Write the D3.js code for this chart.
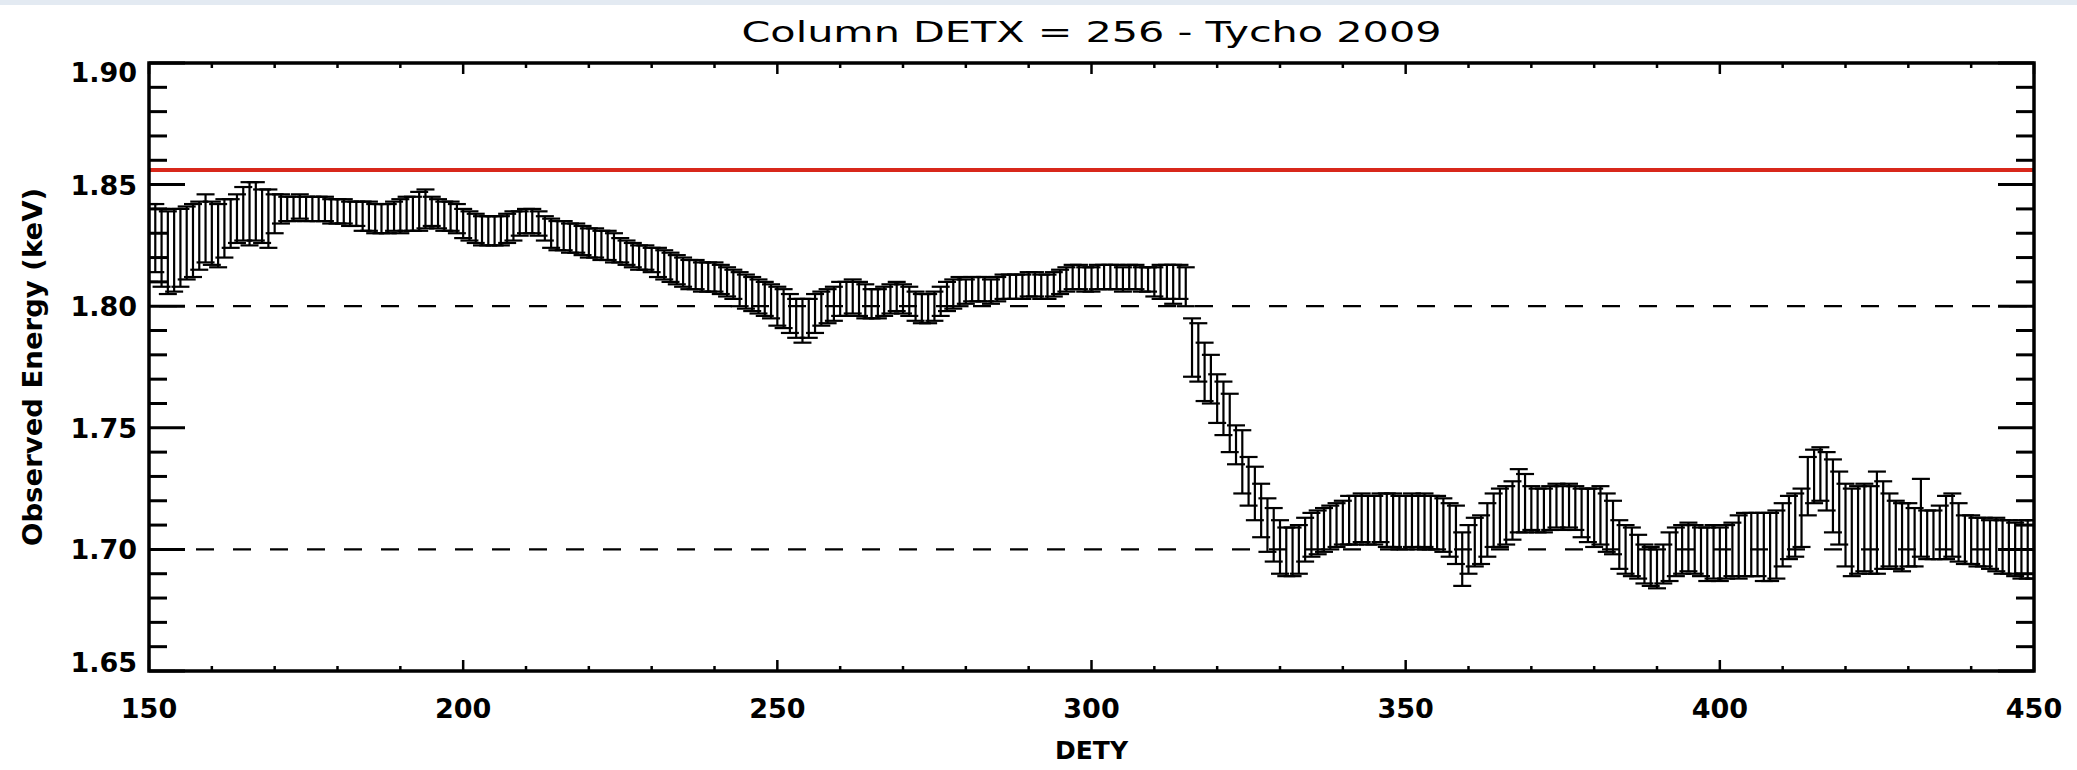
<!DOCTYPE html>
<html>
<head>
<meta charset="utf-8">
<script src="https://cdn.jsdelivr.net/npm/d3@7"></script>
<style>
  html, body { margin: 0; padding: 0; background: #ffffff; }
  svg { display: block; }
</style>
</head>
<body>
<script>
// ---------- DATA ----------
const titleText = "Column DETX = 256 - Tycho 2009";
const xLabel = "DETY";
const yLabel = "Observed Energy (keV)";
const xTicks = [150, 200, 250, 300, 350, 400, 450];
const yTicks = [1.65, 1.70, 1.75, 1.80, 1.85, 1.90];
const yTickLabels = ["1.65", "1.70", "1.75", "1.80", "1.85", "1.90"];
const refLine = 1.856;          // red reference energy
const dashedLevels = [1.80, 1.70];
const detY = d3.range(150, 451); // one point per DETY row, 150..450

// observed energy (keV), DETY 150..450
const energy = [
 1.826,1.828,1.824,1.822,1.823,1.824,1.826,1.827,1.829,1.832,
 1.830,1.829,1.832,1.834,1.836,1.838,1.838,1.839,1.837,1.836,
 1.838,1.840,1.840,1.840,1.841,1.840,1.840,1.840,1.840,1.839,
 1.839,1.839,1.838,1.838,1.837,1.837,1.836,1.836,1.836,1.837,
 1.837,1.838,1.838,1.839,1.840,1.839,1.838,1.837,1.837,1.836,
 1.834,1.833,1.832,1.831,1.831,1.831,1.831,1.832,1.833,1.834,
 1.835,1.835,1.834,1.832,1.830,1.829,1.829,1.828,1.828,1.827,
 1.826,1.826,1.825,1.825,1.824,1.823,1.822,1.821,1.820,1.820,
 1.819,1.818,1.817,1.816,1.815,1.814,1.813,1.813,1.812,1.812,
 1.812,1.811,1.810,1.809,1.807,1.806,1.805,1.804,1.803,1.802,
 1.800,1.799,1.797,1.795,1.794,1.795,1.797,1.799,1.800,1.801,
 1.803,1.803,1.804,1.803,1.802,1.801,1.801,1.802,1.803,1.804,
 1.803,1.802,1.800,1.799,1.799,1.800,1.802,1.804,1.805,1.806,
 1.806,1.807,1.807,1.807,1.806,1.807,1.808,1.808,1.808,1.808,
 1.809,1.809,1.808,1.808,1.809,1.810,1.811,1.812,1.812,1.811,
 1.811,1.812,1.812,1.812,1.812,1.811,1.812,1.812,1.811,1.811,
 1.810,1.810,1.810,1.809,1.810,1.808,1.783,1.781,1.773,1.770,
 1.762,1.758,1.752,1.743,1.736,1.728,1.723,1.716,1.710,1.706,
 1.701,1.699,1.699,1.700,1.704,1.706,1.707,1.708,1.709,1.710,
 1.711,1.712,1.712,1.713,1.712,1.712,1.713,1.712,1.712,1.711,
 1.711,1.712,1.711,1.712,1.711,1.711,1.710,1.708,1.706,1.696,
 1.700,1.703,1.704,1.708,1.712,1.713,1.714,1.716,1.720,1.719,
 1.717,1.716,1.716,1.717,1.718,1.717,1.718,1.717,1.715,1.714,
 1.713,1.714,1.711,1.709,1.702,1.700,1.699,1.697,1.694,1.693,
 1.692,1.694,1.697,1.699,1.700,1.701,1.700,1.699,1.698,1.699,
 1.698,1.699,1.700,1.701,1.702,1.702,1.702,1.701,1.701,1.702,
 1.706,1.709,1.710,1.713,1.726,1.730,1.731,1.728,1.722,1.717,
 1.710,1.707,1.708,1.709,1.708,1.711,1.710,1.708,1.706,1.705,
 1.706,1.705,1.713,1.706,1.706,1.707,1.709,1.710,1.707,1.704,
 1.704,1.703,1.703,1.702,1.702,1.701,1.701,1.700,1.700,1.700,
 1.700
];

// 1-sigma error (keV), DETY 150..450
const errors = [
 .016,.014,.016,.017,.017,.016,.015,.015,.014,.014,
 .013,.013,.012,.010,.010,.011,.013,.012,.011,.012,
 .008,.006,.005,.005,.005,.005,.005,.005,.005,.005,
 .005,.005,.005,.005,.006,.006,.006,.006,.006,.006,
 .007,.007,.007,.008,.008,.006,.006,.006,.006,.006,
 .006,.006,.006,.006,.006,.006,.006,.006,.006,.005,
 .005,.005,.005,.005,.006,.006,.006,.006,.006,.006,
 .006,.006,.006,.006,.006,.005,.005,.005,.005,.005,
 .005,.006,.006,.006,.006,.006,.006,.006,.006,.006,
 .006,.006,.006,.006,.007,.007,.007,.007,.007,.007,
 .008,.008,.008,.008,.009,.008,.008,.007,.007,.007,
 .007,.007,.007,.007,.007,.006,.006,.006,.006,.006,
 .006,.006,.006,.006,.006,.006,.006,.006,.006,.006,
 .005,.005,.005,.005,.005,.005,.005,.005,.005,.005,
 .005,.005,.005,.005,.005,.005,.005,.005,.005,.005,
 .005,.005,.005,.005,.005,.005,.005,.005,.005,.005,
 .006,.007,.007,.008,.007,.008,.012,.012,.012,.010,
 .010,.011,.012,.008,.013,.010,.011,.011,.011,.011,
 .011,.010,.010,.010,.009,.009,.009,.009,.009,.009,
 .009,.010,.010,.010,.010,.010,.010,.011,.011,.011,
 .011,.011,.011,.011,.011,.011,.011,.011,.012,.011,
 .010,.010,.010,.011,.011,.012,.012,.012,.013,.012,
 .009,.009,.009,.009,.009,.009,.009,.009,.010,.011,
 .012,.012,.012,.011,.010,.010,.010,.009,.008,.008,
 .008,.008,.010,.010,.010,.010,.010,.010,.011,.011,
 .011,.011,.011,.013,.013,.013,.013,.014,.014,.014,
 .013,.013,.013,.012,.012,.011,.011,.012,.015,.015,
 .017,.018,.018,.018,.018,.021,.018,.015,.014,.014,
 .013,.012,.016,.010,.010,.011,.013,.013,.012,.010,
 .010,.010,.010,.010,.011,.011,.011,.011,.012,.012,
 .012
];

// ---------- LAYOUT ----------
const W = 2077, H = 770;
const pL = 149, pR = 2034, pT = 63, pB = 671;
const font = "'DejaVu Sans', sans-serif";

const svg = d3.select("body").append("svg")
  .attr("width", W).attr("height", H);

svg.append("rect").attr("x", 0).attr("y", 0).attr("width", W).attr("height", H).attr("fill", "#ffffff");
svg.append("rect").attr("x", 0).attr("y", 0).attr("width", W).attr("height", 5).attr("fill", "#e3eaf2");

const x = d3.scaleLinear().domain([150, 450]).range([pL, pR]);
const y = d3.scaleLinear().domain([1.65, 1.90]).range([pB, pT]);

svg.append("defs").append("clipPath").attr("id", "plotclip")
  .append("rect").attr("x", pL).attr("y", pT).attr("width", pR - pL).attr("height", pB - pT);

const plot = svg.append("g").attr("clip-path", "url(#plotclip)");

// dashed reference levels
plot.selectAll("line.dash").data(dashedLevels).enter().append("line")
  .attr("class", "dash")
  .attr("x1", pL).attr("x2", pR)
  .attr("y1", d => y(d)).attr("y2", d => y(d))
  .attr("stroke", "#000").attr("stroke-width", 2.2)
  .attr("stroke-dasharray", "18,19").attr("stroke-dashoffset", -10);

// red line
plot.append("line")
  .attr("x1", pL).attr("x2", pR)
  .attr("y1", y(refLine)).attr("y2", y(refLine))
  .attr("stroke", "#d8281b").attr("stroke-width", 4);

// error bars
const pts = detY.map((d, i) => ({ d, v: energy[i], e: errors[i] }));
const eb = plot.append("g").attr("stroke", "#000").attr("stroke-width", 2.2);
const capHalf = 9;
eb.selectAll("line.v").data(pts).enter().append("line")
  .attr("x1", p => x(p.d)).attr("x2", p => x(p.d))
  .attr("y1", p => y(p.v + p.e)).attr("y2", p => y(p.v - p.e));
eb.selectAll("line.ct").data(pts).enter().append("line")
  .attr("x1", p => x(p.d) - capHalf).attr("x2", p => x(p.d) + capHalf)
  .attr("y1", p => y(p.v + p.e)).attr("y2", p => y(p.v + p.e));
eb.selectAll("line.cb").data(pts).enter().append("line")
  .attr("x1", p => x(p.d) - capHalf).attr("x2", p => x(p.d) + capHalf)
  .attr("y1", p => y(p.v - p.e)).attr("y2", p => y(p.v - p.e));

// ---------- AXES ----------
const xMinor = d3.range(150, 451, 10).filter(v => !xTicks.includes(v));
const yMinorVals = d3.range(0, 26).map(i => +(1.65 + i * 0.01).toFixed(2)).filter(v => !yTicks.some(t => Math.abs(t - v) < 1e-6));

const xAxisB = d3.axisBottom(x).tickValues(xTicks).tickSize(0).tickFormat("");
const axG = svg.append("g").attr("transform", `translate(0,${pB})`).call(xAxisB);
axG.select(".domain").remove();

const tickG = svg.append("g").attr("stroke", "#000");
tickG.selectAll("line.xmb").data(xTicks).enter().append("line")
  .attr("x1", d => x(d)).attr("x2", d => x(d)).attr("y1", pB).attr("y2", pB - 11).attr("stroke-width", 2.5);
tickG.selectAll("line.xmt").data(xTicks).enter().append("line")
  .attr("x1", d => x(d)).attr("x2", d => x(d)).attr("y1", pT).attr("y2", pT + 11).attr("stroke-width", 2.5);
tickG.selectAll("line.xnb").data(xMinor).enter().append("line")
  .attr("x1", d => x(d)).attr("x2", d => x(d)).attr("y1", pB).attr("y2", pB - 5).attr("stroke-width", 2.5);
tickG.selectAll("line.xnt").data(xMinor).enter().append("line")
  .attr("x1", d => x(d)).attr("x2", d => x(d)).attr("y1", pT).attr("y2", pT + 5).attr("stroke-width", 2.5);
tickG.selectAll("line.yml").data(yTicks).enter().append("line")
  .attr("x1", pL).attr("x2", pL + 36).attr("y1", d => y(d)).attr("y2", d => y(d)).attr("stroke-width", 3);
tickG.selectAll("line.ymr").data(yTicks).enter().append("line")
  .attr("x1", pR).attr("x2", pR - 36).attr("y1", d => y(d)).attr("y2", d => y(d)).attr("stroke-width", 3);
tickG.selectAll("line.ynl").data(yMinorVals).enter().append("line")
  .attr("x1", pL).attr("x2", pL + 18).attr("y1", d => y(d)).attr("y2", d => y(d)).attr("stroke-width", 3);
tickG.selectAll("line.ynr").data(yMinorVals).enter().append("line")
  .attr("x1", pR).attr("x2", pR - 18).attr("y1", d => y(d)).attr("y2", d => y(d)).attr("stroke-width", 3);

// frame
svg.append("rect").attr("x", pL).attr("y", pT).attr("width", pR - pL).attr("height", pB - pT)
  .attr("fill", "none").attr("stroke", "#000").attr("stroke-width", 3.5);

// tick labels
svg.append("g").selectAll("text").data(xTicks).enter().append("text")
  .attr("x", d => x(d)).attr("y", 718)
  .attr("text-anchor", "middle").attr("font-family", font).attr("font-weight", "bold")
  .attr("font-size", 27).attr("fill", "#000").text(d => d);

// end labels sit slightly inside the frame, as in the original
const yLabelShift = (d, i) => (i === 0 ? -9 : (i === yTicks.length - 1 ? 9 : 0));
svg.append("g").selectAll("text").data(yTicks).enter().append("text")
  .attr("x", 137).attr("y", (d, i) => y(d) + 10 + yLabelShift(d, i))
  .attr("text-anchor", "end").attr("font-family", font).attr("font-weight", "bold")
  .attr("font-size", 27).attr("fill", "#000").text((d, i) => yTickLabels[i]);

// axis titles
svg.append("text").attr("x", (pL + pR) / 2).attr("y", 759)
  .attr("text-anchor", "middle").attr("font-family", font).attr("font-weight", "bold")
  .attr("font-size", 25).attr("fill", "#000").text(xLabel);

svg.append("text").attr("transform", `translate(42,${(pT + pB) / 2}) rotate(-90)`)
  .attr("text-anchor", "middle").attr("font-family", font).attr("font-weight", "bold")
  .attr("font-size", 26).attr("fill", "#000")
  .attr("textLength", 358).attr("lengthAdjust", "spacingAndGlyphs").text(yLabel);

// title
svg.append("text").attr("x", (pL + pR) / 2).attr("y", 42)
  .attr("text-anchor", "middle").attr("font-family", font)
  .attr("font-size", 29).attr("fill", "#000")
  .attr("textLength", 700).attr("lengthAdjust", "spacingAndGlyphs").text(titleText);
</script>
</body>
</html>
